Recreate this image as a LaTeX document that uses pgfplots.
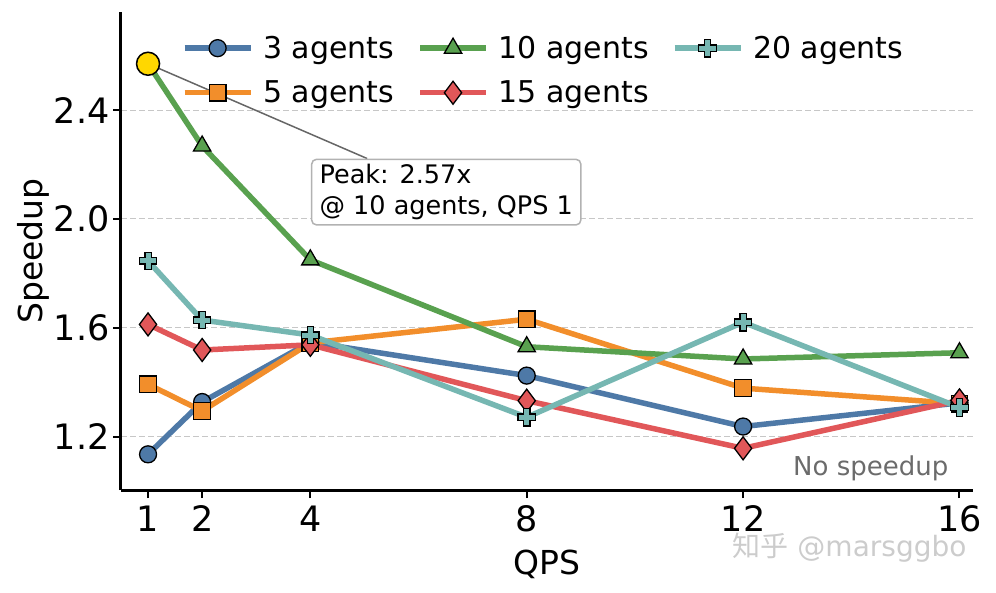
\documentclass[border=0pt]{standalone}
\usepackage{fontspec}
\setmainfont{DejaVu Sans}
\newfontfamily\cjk{Noto Sans CJK SC}
\usepackage{pgfplots}
\pgfplotsset{compat=1.18}
\definecolor{c3}{HTML}{4E79A7}
\definecolor{c5}{HTML}{F28E2B}
\definecolor{c10}{HTML}{59A14F}
\definecolor{c15}{HTML}{E15759}
\definecolor{c20}{HTML}{76B7B2}
\definecolor{gold}{HTML}{FFD700}
\pgfdeclareplotmark{fatplus}{%
  \pgfpathmoveto{\pgfqpoint{-0.36\pgfplotmarksize}{\pgfplotmarksize}}%
  \pgfpathlineto{\pgfqpoint{0.36\pgfplotmarksize}{\pgfplotmarksize}}%
  \pgfpathlineto{\pgfqpoint{0.36\pgfplotmarksize}{0.36\pgfplotmarksize}}%
  \pgfpathlineto{\pgfqpoint{\pgfplotmarksize}{0.36\pgfplotmarksize}}%
  \pgfpathlineto{\pgfqpoint{\pgfplotmarksize}{-0.36\pgfplotmarksize}}%
  \pgfpathlineto{\pgfqpoint{0.36\pgfplotmarksize}{-0.36\pgfplotmarksize}}%
  \pgfpathlineto{\pgfqpoint{0.36\pgfplotmarksize}{-\pgfplotmarksize}}%
  \pgfpathlineto{\pgfqpoint{-0.36\pgfplotmarksize}{-\pgfplotmarksize}}%
  \pgfpathlineto{\pgfqpoint{-0.36\pgfplotmarksize}{-0.36\pgfplotmarksize}}%
  \pgfpathlineto{\pgfqpoint{-\pgfplotmarksize}{-0.36\pgfplotmarksize}}%
  \pgfpathlineto{\pgfqpoint{-\pgfplotmarksize}{0.36\pgfplotmarksize}}%
  \pgfpathlineto{\pgfqpoint{-0.36\pgfplotmarksize}{0.36\pgfplotmarksize}}%
  \pgfpathclose
  \pgfusepathqfillstroke}
\pgfplotsset{
  s3/.style={c3, line width=5.5pt, mark=*, mark size=8.5pt, mark options={fill=c3, draw=black, line width=1.3pt, solid}},
  s5/.style={c5, line width=5.5pt, mark=square*, mark size=8.3pt, mark options={fill=c5, draw=black, line width=1.3pt, solid}},
  s10/.style={c10, line width=5.5pt, mark=triangle*, mark size=10pt, mark options={fill=c10, draw=black, line width=1.3pt, solid}},
  s15/.style={c15, line width=5.5pt, mark=diamond*, mark size=11.5pt, mark options={fill=c15, draw=black, line width=1.3pt, solid}},
  s20/.style={c20, line width=5.5pt, mark=fatplus, mark size=8.7pt, mark options={fill=c20, draw=black, line width=1.3pt, solid}},
}
\begin{document}
\begin{tikzpicture}[x=1pt,y=1pt]
\begin{axis}[
  at={(121pt,102pt)}, anchor=south west,
  scale only axis, width=852pt, height=478pt,
  xmin=0.5, xmax=16.25, ymin=1.005, ymax=2.76,
  axis x line*=bottom, axis y line*=left,
  axis line style={line width=3pt},
  xtick={1,2,4,8,12,16}, ytick={1.2,1.6,2.0,2.4},
  yticklabel style={/pgf/number format/fixed,/pgf/number format/fixed zerofill,/pgf/number format/precision=1},
  /pgf/number format/assume math mode=true,
  tick label style={font=\fontsize{35}{40}\selectfont},
  xticklabel style={yshift=-4pt},
  yticklabel style={xshift=0pt},
  tick align=outside, major tick length=8pt,
  every tick/.style={black, line width=2pt},
  xlabel={QPS}, ylabel={Speedup},
  label style={font=\fontsize{33}{38}\selectfont},
  xlabel style={yshift=-11pt},
  ylabel style={yshift=-2pt},
  ymajorgrids, grid style={dash pattern=on 6pt off 3pt, color=black!22, line width=1pt},
  clip=false,
  legend columns=3,
  legend cell align=left,
  legend style={draw=none, fill=none, at={(0.0677,0.958)}, anchor=north west,
    font=\fontsize{30}{35}\selectfont, row sep=17pt,
    /tikz/every odd column/.append style={column sep=8pt},
    /tikz/every even column/.append style={column sep=21pt}},
  legend image code/.code={\draw[mark repeat=2,mark phase=2,#1] plot coordinates {(0pt,0pt) (33pt,0pt) (66pt,0pt)};},
]
\addplot[s3, forget plot] coordinates {(1,1.136) (2,1.328) (4,1.548) (8,1.425) (12,1.238) (16,1.325)};
\addplot[s5, forget plot] coordinates {(1,1.393) (2,1.295) (4,1.545) (8,1.632) (12,1.379) (16,1.322)};
\addplot[s10, forget plot] coordinates {(1,2.57) (2,2.268) (4,1.85) (8,1.531) (12,1.486) (16,1.509)};
\addplot[s15, forget plot] coordinates {(1,1.613) (2,1.519) (4,1.538) (8,1.333) (12,1.158) (16,1.334)};
\addplot[s20, forget plot] coordinates {(1,1.846) (2,1.629) (4,1.574) (8,1.272) (12,1.621) (16,1.308)};
\addlegendimage{s3}\addlegendentry{3 agents}
\addlegendimage{s10}\addlegendentry{10 agents}
\addlegendimage{s20}\addlegendentry{20 agents}
\addlegendimage{s5}\addlegendentry{5 agents}
\addlegendimage{s15}\addlegendentry{15 agents}
\draw[black!60, line width=1.5pt, shorten >=11pt] (axis cs:5.05,2.222) -- (axis cs:1,2.57);
\addplot[only marks, mark=*, mark size=11.5pt, mark options={fill=gold, draw=black, line width=1.5pt}, forget plot] coordinates {(1,2.57)};
\node[draw=black!30, line width=1.5pt, rounded corners=5pt, fill=white, anchor=north west, align=left, inner xsep=8pt, inner ysep=5pt,
  font=\fontsize{25.5}{31}\selectfont] at (axis cs:4.01,2.222) {Peak: 2.57x\\@ 10 agents, QPS 1};
\node[anchor=east, text=black!58, font=\fontsize{26}{30}\selectfont] at (axis cs:15.86,1.085) {No speedup};
\end{axis}
\node[anchor=east, text=black!20, font=\fontsize{28}{34}\selectfont] at (970pt,44pt) {{\cjk 知乎} @marsggbo};
\pgfresetboundingbox
\useasboundingbox (0,0) rectangle (996pt,592pt);
\end{tikzpicture}
\end{document}
